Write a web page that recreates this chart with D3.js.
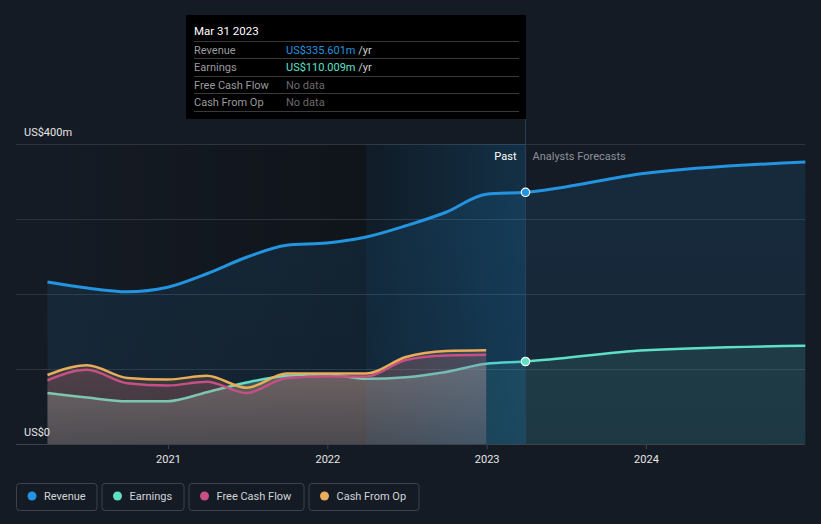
<!DOCTYPE html>
<html>
<head>
<meta charset="utf-8">
<script src="https://cdn.jsdelivr.net/npm/d3@7"></script>
<style>
  html, body { margin: 0; padding: 0; background: #151b24; }
  svg { display: block; font-family: Roboto, "Noto Sans", sans-serif; }
</style>
</head>
<body>
<svg id="chart" width="821" height="524"></svg>
<script>
// ---------- DATA ----------
const pastDates = ["2020-03-31","2020-06-30","2020-09-30","2020-12-31","2021-03-31","2021-06-30","2021-09-30","2021-12-31","2022-03-31","2022-06-30","2022-09-30","2022-12-31","2023-03-31"];
const revenuePast  = [216, 208, 203, 209, 227, 249, 265, 268, 276, 291, 309, 333, 335.601];
const earningsPast = [68, 62, 57, 57, 69, 82, 91, 93, 87, 89, 96, 107, 110.009];
const cashDates = ["2020-03-31","2020-06-30","2020-09-30","2020-12-31","2021-03-31","2021-06-30","2021-09-30","2021-12-31","2022-03-31","2022-06-30","2022-09-30","2022-12-31"];
const fcfValues = [85, 99, 81, 78, 83, 68, 88, 90, 90, 112, 118, 119];
const cfoValues = [92, 105, 88, 86, 91, 75, 94, 94, 94, 116, 124, 125];
const forecastDates = ["2023-03-31","2023-12-31","2024-12-31"];
const revenueForecast  = [335.601, 361, 376];
const earningsForecast = [110.009, 125, 131];
const yTicks = [0, 100, 200, 300, 400];
const yLabels = ["US$0", "", "", "", "US$400m"];
const xTickYears = ["2021","2022","2023","2024"];
const legendNames = ["Revenue","Earnings","Free Cash Flow","Cash From Op"];
const tooltipDate = "Mar 31 2023";
const tooltipRows = [
  {label:"Revenue", value:"US$335.601m", unit:" /yr"},
  {label:"Earnings", value:"US$110.009m", unit:" /yr"},
  {label:"Free Cash Flow", value:"No data", unit:""},
  {label:"Cash From Op", value:"No data", unit:""}
];
const nowDate = "2023-03-31";
const highlightStart = "2022-03-31";

// ---------- STYLE ----------
const C = { revenue:"#2394df", earnings:"#5fe0c6", fcf:"#c64f86", cfo:"#e9ac5b", bg:"#151b24" };
const parse = d3.timeParse("%Y-%m-%d");

const svg = d3.select("#chart");
const W = 821, H = 524;
const plotLeft = 16, plotRight = 805, plotTop = 144, plotBottom = 444;

const x = d3.scaleTime().domain([parse("2020-03-31"), parse("2024-12-31")]).range([47.5, 805.3]);
const y = d3.scaleLinear().domain([0, 400]).range([plotBottom, plotTop]);

const zip = (ds, vs) => ds.map((d, i) => ({ d: parse(d), v: vs[i] }));
const rev = zip(pastDates, revenuePast).concat(zip(forecastDates, revenueForecast).slice(1));
const earn = zip(pastDates, earningsPast).concat(zip(forecastDates, earningsForecast).slice(1));
const lastCash = parse(cashDates[cashDates.length-1]);
const earnPast = zip(pastDates, earningsPast).filter(p => p.d <= lastCash);
const fcf = zip(cashDates, fcfValues);
const cfo = zip(cashDates, cfoValues);

svg.append("rect").attr("width", W).attr("height", H).attr("fill", C.bg);

const defs = svg.append("defs");
function vgrad(id, color, stops) {
  const g = defs.append("linearGradient").attr("id", id).attr("gradientUnits","userSpaceOnUse")
    .attr("x1",0).attr("x2",0).attr("y1",plotTop).attr("y2",plotBottom);
  stops.forEach(s => g.append("stop").attr("offset", s[0]).attr("stop-color", color).attr("stop-opacity", s[1]));
}
function hgrad(id, x1, x2, stops) {
  const g = defs.append("linearGradient").attr("id", id).attr("gradientUnits","userSpaceOnUse")
    .attr("x1",x1).attr("x2",x2).attr("y1",0).attr("y2",0);
  stops.forEach(s => g.append("stop").attr("offset", s[0]).attr("stop-color", s[1]).attr("stop-opacity", s[2]));
}
vgrad("gRev", C.revenue, [[0,0.13],[1,0.09]]);
vgrad("gEarn", C.earnings, [[0,0.13],[1,0.10]]);
vgrad("gEarnPast", "#8cafa5", [[0.7,0.42],[1,0.2]]);
vgrad("gFcf", C.fcf, [[0.6,0.2],[1,0.1]]);
vgrad("gCfo", C.cfo, [[0.6,0.2],[1,0.1]]);

const x0 = x(parse(pastDates[0]));
const xNow = x(parse(nowDate)), xHi = x(parse(highlightStart));
hgrad("gDark", x0, xHi, [[0,"#000",0],[1,"#000",0.25]]);
hgrad("gHi", xHi, xNow, [[0,C.revenue,0.06],[1,C.revenue,0.22]]);

// dark past band
svg.append("rect").attr("x", x0).attr("y", plotTop).attr("width", xHi - x0)
  .attr("height", plotBottom - plotTop).attr("fill", "url(#gDark)");
svg.append("rect").attr("x", xHi).attr("y", plotTop).attr("width", xNow - xHi)
  .attr("height", plotBottom - plotTop).attr("fill", "#000").attr("opacity", 0.25);

// gridlines
const grid = svg.append("g");
grid.selectAll("line").data(yTicks).join("line")
  .attr("x1", plotLeft).attr("x2", plotRight).attr("y1", d => y(d)).attr("y2", d => y(d))
  .attr("stroke", d => d === 0 ? "#3b424c" : "#2d343e").attr("stroke-width", 1)
  .attr("shape-rendering","crispEdges");

const curve = d3.curveMonotoneX;
const area = d3.area().x(p => x(p.d)).y0(y(0)).y1(p => y(p.v)).curve(curve);
const line = d3.line().x(p => x(p.d)).y(p => y(p.v)).curve(curve);

svg.append("path").datum(rev).attr("d", area).attr("fill", "url(#gRev)");
svg.append("path").datum(earn.filter(p => p.d >= lastCash)).attr("d", area).attr("fill", "url(#gEarn)");
svg.append("path").datum(earnPast).attr("d", area).attr("fill", "url(#gEarnPast)");
svg.append("path").datum(earn).attr("d", line).attr("fill","none").attr("stroke", C.earnings).attr("stroke-width", 2.5);
svg.append("path").datum(cfo).attr("d", area).attr("fill", "url(#gCfo)");
svg.append("path").datum(fcf).attr("d", area).attr("fill", "url(#gFcf)");

// highlight overlay (last year of the past)
svg.append("rect").attr("x", xHi).attr("y", plotTop).attr("width", xNow - xHi)
  .attr("height", plotBottom - plotTop).attr("fill", "url(#gHi)");
svg.append("line").attr("x1", xNow).attr("x2", xNow).attr("y1", 119).attr("y2", plotBottom)
  .attr("stroke", "#2a4760").attr("stroke-width", 1.2).attr("opacity", 0.8);

svg.append("path").datum(fcf).attr("d", line).attr("fill","none").attr("stroke", C.fcf).attr("stroke-width", 2.5);
svg.append("path").datum(cfo).attr("d", line).attr("fill","none").attr("stroke", C.cfo).attr("stroke-width", 2.5);
svg.append("path").datum(rev).attr("d", line).attr("fill","none").attr("stroke", C.revenue).attr("stroke-width", 3);

// markers at "now"
[[revenuePast, C.revenue],[earningsPast, C.earnings]].forEach(([arr, col]) => {
  svg.append("circle").attr("cx", xNow).attr("cy", y(arr[arr.length-1])).attr("r", 4.2)
    .attr("fill", col).attr("stroke", "#fff").attr("stroke-width", 1.2);
});

// y labels
yTicks.forEach((d, i) => {
  if (!yLabels[i]) return;
  svg.append("text").attr("x", 24).attr("y", y(d) - 8)
    .attr("fill", "#e6e6e6").attr("font-size", 11).text(yLabels[i]);
});

// x axis
const xAxis = d3.axisBottom(x)
  .tickValues(xTickYears.map(s => parse(s + "-01-01")))
  .tickFormat(d3.timeFormat("%Y")).tickSize(5).tickPadding(6);
const gx = svg.append("g").attr("transform", `translate(0,${plotBottom})`).call(xAxis);
gx.select(".domain").remove();
gx.selectAll(".tick line").attr("stroke", "#3b424c");
gx.selectAll(".tick text").attr("fill", "#e6e6e6").attr("font-size", 11)
  .attr("font-family", "Roboto, sans-serif");

// Past / Analysts Forecasts
svg.append("text").attr("x", xNow - 9).attr("y", 160).attr("text-anchor","end")
  .attr("fill","#ffffff").attr("font-size", 11).text("Past");
svg.append("text").attr("x", xNow + 7).attr("y", 160)
  .attr("fill","#8d9199").attr("font-size", 11).text("Analysts Forecasts");

// tooltip
const tt = svg.append("g");
tt.append("rect").attr("x", 186).attr("y", 15).attr("width", 340).attr("height", 104).attr("fill", "#000");
tt.append("text").attr("x", 194).attr("y", 35).attr("fill", "#fff").attr("font-size", 11.5).text(tooltipDate);
const rowY = [41, 58, 76, 93, 111];
rowY.forEach(yy => tt.append("line").attr("x1", 194).attr("x2", 519).attr("y1", yy + 0.5).attr("y2", yy + 0.5)
  .attr("stroke", "#3a3a3a").attr("stroke-width", 1));
const valueColors = [C.revenue, C.earnings, "#6a6a6a", "#6a6a6a"];
tooltipRows.forEach((r, i) => {
  const ty = rowY[i] + 12.5;
  tt.append("text").attr("x", 194).attr("y", ty).attr("fill", "#9a9a9a").attr("font-size", 11).text(r.label);
  const t = tt.append("text").attr("x", 286).attr("y", ty).attr("font-size", 11);
  t.append("tspan").attr("fill", valueColors[i]).text(r.value);
  t.append("tspan").attr("fill", "#cfcfcf").text(r.unit);
});

// legend
const legColors = [C.revenue, C.earnings, C.fcf, C.cfo];
const legX = [16.5, 102, 189, 309];
const legW = [80.5, 82, 115, 110];
legendNames.forEach((n, i) => {
  const g = svg.append("g").attr("transform", `translate(${legX[i]},483.5)`);
  g.append("rect").attr("width", legW[i]).attr("height", 27).attr("rx", 3)
    .attr("fill", "none").attr("stroke", "#3c434d").attr("stroke-width", 1);
  g.append("circle").attr("cx", 15.5).attr("cy", 12.5).attr("r", 4.5).attr("fill", legColors[i]);
  g.append("text").attr("x", 27.5).attr("y", 16.5).attr("fill", "#d2d4d8").attr("font-size", 11).text(n);
});
</script>
</body>
</html>
